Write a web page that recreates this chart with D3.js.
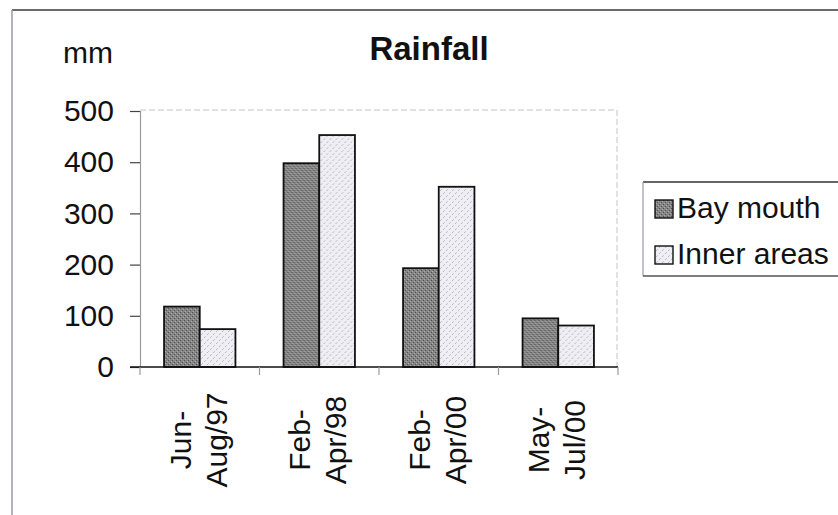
<!DOCTYPE html>
<html>
<head>
<meta charset="utf-8">
<script src="https://cdn.jsdelivr.net/npm/d3@7"></script>
<style>
  html, body { margin: 0; padding: 0; background: #fff; }
  svg { display: block; font-family: "Liberation Sans", Arial, Helvetica, sans-serif; }
</style>
</head>
<body>
<svg id="chart" width="838" height="515"></svg>
<script>
// Rainfall per sampling period, in mm
const categories = [["Jun-", "Aug/97"], ["Feb-", "Apr/98"], ["Feb-", "Apr/00"], ["May-", "Jul/00"]];
const seriesNames = ["Bay mouth", "Inner areas"];
const bayMouth = [118, 398, 193, 95];
const innerAreas = [74, 453, 352, 81];
const yTicks = [0, 100, 200, 300, 400, 500];

const svg = d3.select("#chart");
const defs = svg.append("defs");

// Dithered fills for the two series
const dark = defs.append("pattern").attr("id", "fillDark")
  .attr("width", 4).attr("height", 4).attr("patternUnits", "userSpaceOnUse");
dark.append("rect").attr("width", 4).attr("height", 4).attr("fill", "#858585");
dark.append("rect").attr("x", 0).attr("y", 0).attr("width", 1).attr("height", 1).attr("fill", "#505050");
dark.append("rect").attr("x", 2).attr("y", 2).attr("width", 1).attr("height", 1).attr("fill", "#505050");
dark.append("rect").attr("x", 1).attr("y", 3).attr("width", 1).attr("height", 1).attr("fill", "#adadad");
dark.append("rect").attr("x", 3).attr("y", 1).attr("width", 1).attr("height", 1).attr("fill", "#adadad");

const light = defs.append("pattern").attr("id", "fillLight")
  .attr("width", 6).attr("height", 6).attr("patternUnits", "userSpaceOnUse");
light.append("rect").attr("width", 6).attr("height", 6).attr("fill", "#eeeef4");
light.append("rect").attr("x", 1).attr("y", 4).attr("width", 1).attr("height", 1).attr("fill", "#b8b8b8");
light.append("rect").attr("x", 2).attr("y", 3).attr("width", 1).attr("height", 1).attr("fill", "#c8c8c8");
light.append("rect").attr("x", 4).attr("y", 1).attr("width", 1).attr("height", 1).attr("fill", "#b8b8b8");
light.append("rect").attr("x", 5).attr("y", 0).attr("width", 1).attr("height", 1).attr("fill", "#c8c8c8");

const fills = { "Bay mouth": "url(#fillDark)", "Inner areas": "url(#fillLight)" };

// Chart frame (top and left edges)
svg.append("line").attr("x1", 12).attr("y1", 10).attr("x2", 838).attr("y2", 10)
  .attr("stroke", "#3a3a3a").attr("stroke-width", 1.5);
svg.append("line").attr("x1", 12).attr("y1", 10).attr("x2", 12).attr("y2", 515)
  .attr("stroke", "#9a9aa8").attr("stroke-width", 1.5);

const plot = { left: 140, right: 618, top: 111, bottom: 367 };

const x0 = d3.scaleBand()
  .domain(d3.range(categories.length))
  .range([plot.left, plot.right])
  .paddingInner(0).paddingOuter(0);

const x1 = d3.scaleBand()
  .domain(seriesNames)
  .range([0, x0.bandwidth()])
  .paddingInner(0).paddingOuter(0.674);

const y = d3.scaleLinear().domain([0, 500]).range([plot.bottom, plot.top]);

// Plot area border (faint dashed)
svg.append("path")
  .attr("d", `M${plot.left},${plot.top - 1}H${plot.right - 1}V${plot.bottom}`)
  .attr("fill", "none").attr("stroke", "#c4c4cc").attr("stroke-width", 1)
  .attr("stroke-dasharray", "6,3");

// Y axis
const yAxis = d3.axisLeft(y).tickValues(yTicks).tickSize(10).tickPadding(16);
const gy = svg.append("g").attr("transform", `translate(${plot.left},0)`).call(yAxis);
gy.select(".domain").attr("stroke", "#9a9aa4").attr("stroke-width", 1.2);
gy.selectAll(".tick line").attr("stroke", "#444").attr("stroke-width", 1.2);
gy.selectAll(".tick text")
  .attr("font-size", 30).attr("fill", "#111")
  .attr("font-family", "'Liberation Sans', Arial, sans-serif");

// Bars
const groups = svg.append("g").selectAll("g")
  .data(categories.map((c, i) => ({ i, values: [bayMouth[i], innerAreas[i]] })))
  .join("g")
  .attr("transform", d => `translate(${x0(d.i)},0)`);

groups.selectAll("rect")
  .data(d => d.values.map((v, k) => ({ name: seriesNames[k], v })))
  .join("rect")
  .attr("x", d => x1(d.name))
  .attr("y", d => y(d.v))
  .attr("width", x1.bandwidth())
  .attr("height", d => y(0) - y(d.v))
  .attr("fill", d => fills[d.name])
  .attr("stroke", "#111")
  .attr("stroke-width", 1.8);

// X axis
const xAxis = d3.axisBottom(x0).tickValues([]).tickSizeOuter(0);
const gx = svg.append("g").attr("transform", `translate(0,${plot.bottom})`).call(xAxis);
gx.select(".domain").remove();
svg.append("line")
  .attr("x1", plot.left - 10).attr("x2", plot.right)
  .attr("y1", plot.bottom).attr("y2", plot.bottom)
  .attr("stroke", "#111").attr("stroke-width", 1.6);

// Category dividers below the axis
const edges = d3.range(categories.length + 1).map(i =>
  i < categories.length ? x0(i) : x0(categories.length - 1) + x0.bandwidth());
svg.append("g").selectAll("line").data(edges).join("line")
  .attr("x1", d => d).attr("x2", d => d)
  .attr("y1", plot.bottom).attr("y2", plot.bottom + 8)
  .attr("stroke", "#9a9aa4").attr("stroke-width", 1.2);

// Category labels, rotated, two lines each
const labelY = 440;
const lineOffsets = [-9, 27];
const catLabels = svg.append("g").selectAll("g")
  .data(categories.map((c, i) => ({ c, i })))
  .join("g");
catLabels.each(function (d) {
  const cx = x0(d.i) + x0.bandwidth() / 2;
  d.c.forEach((line, k) => {
    d3.select(this).append("text")
      .attr("transform", `translate(${cx + lineOffsets[k]},${labelY}) rotate(-90)`)
      .attr("text-anchor", "middle")
      .attr("font-size", 30)
      .attr("fill", "#111")
      .text(line);
  });
});

// Unit label and title
svg.append("text").attr("x", 63).attr("y", 63)
  .attr("font-size", 30).attr("fill", "#111").text("mm");
svg.append("text").attr("x", 429).attr("y", 60)
  .attr("text-anchor", "middle").attr("font-size", 33).attr("font-weight", "bold")
  .attr("fill", "#111").text("Rainfall");

// Legend
const legend = svg.append("g");
legend.append("line").attr("x1", 643).attr("x2", 838).attr("y1", 182).attr("y2", 182)
  .attr("stroke", "#333").attr("stroke-width", 1.5);
legend.append("line").attr("x1", 643).attr("x2", 643).attr("y1", 182).attr("y2", 276)
  .attr("stroke", "#9a9aa8").attr("stroke-width", 1.2);
legend.append("line").attr("x1", 643).attr("x2", 838).attr("y1", 276).attr("y2", 276)
  .attr("stroke", "#555").attr("stroke-width", 1.5);

const legendRows = legend.selectAll("g.row").data(seriesNames).join("g")
  .attr("class", "row")
  .attr("transform", (d, i) => `translate(655,${200 + i * 46})`);
legendRows.append("rect")
  .attr("width", 18).attr("height", 18)
  .attr("fill", d => fills[d]).attr("stroke", "#111").attr("stroke-width", 1.4);
legendRows.append("text")
  .attr("x", 22).attr("y", 18)
  .attr("font-size", 30).attr("fill", "#111")
  .text(d => d);
</script>
</body>
</html>
